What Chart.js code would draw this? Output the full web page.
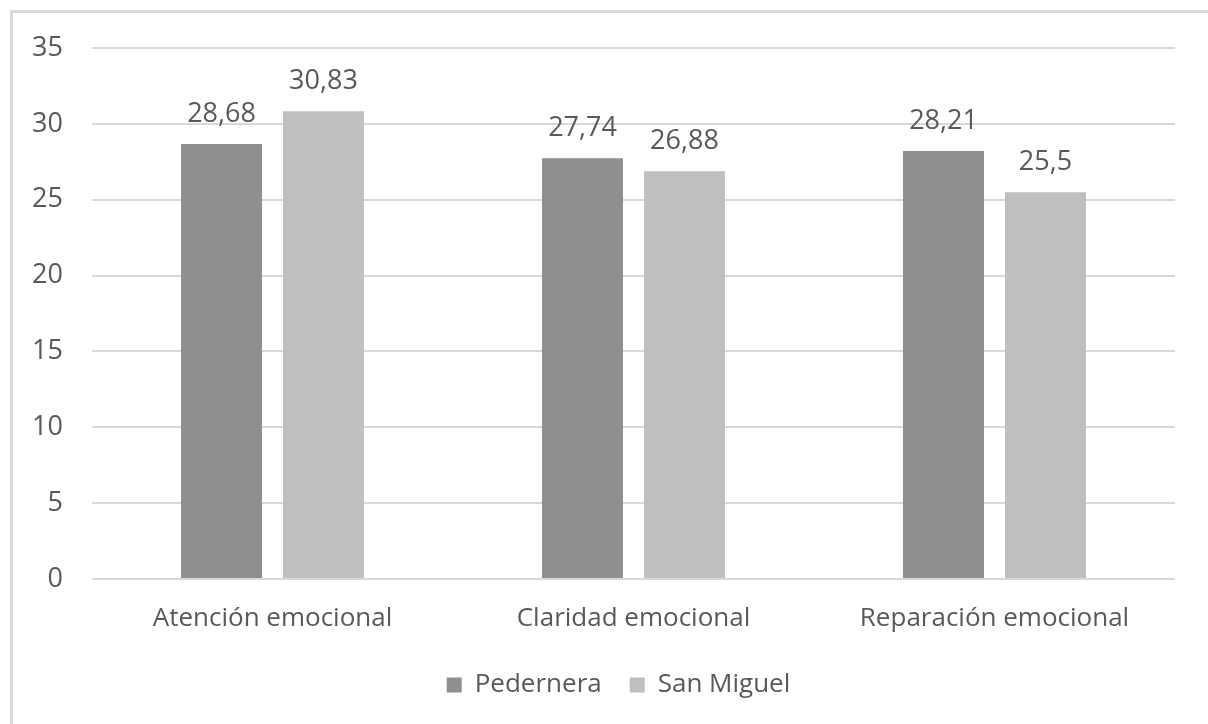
<!DOCTYPE html>
<html>
<head>
<meta charset="utf-8">
<script src="https://cdn.jsdelivr.net/npm/chart.js@4/dist/chart.umd.min.js"></script>
<style>
  html, body { margin: 0; padding: 0; background: #ffffff; }
  #wrap { position: relative; width: 1208px; height: 724px; }
</style>
</head>
<body>
<div id="wrap"><canvas id="c" width="1208" height="724"></canvas></div>
<script>
const categories = ['Atención emocional', 'Claridad emocional', 'Reparación emocional'];
const seriesNames = ['Pedernera', 'San Miguel'];
const pedernera = [28.68, 27.74, 28.21];
const sanMiguel = [30.83, 26.88, 25.5];
const yTicks = [0, 5, 10, 15, 20, 25, 30, 35];

const TEXT = '#595959';
const FONT = '"Open Sans", "Noto Sans", sans-serif';

const frame = {
  id: 'frame',
  beforeDraw(chart) {
    const ctx = chart.ctx;
    ctx.save();
    ctx.fillStyle = '#d9d9d9';
    ctx.fillRect(10, 10, 3, chart.height - 10);
    ctx.fillRect(10, 10, chart.width - 10, 3);
    ctx.restore();
  }
};

const valueLabels = {
  id: 'valueLabels',
  afterDatasetsDraw(chart) {
    const ctx = chart.ctx;
    ctx.save();
    ctx.fillStyle = TEXT;
    ctx.font = '27px ' + FONT;
    ctx.textAlign = 'center';
    ctx.textBaseline = 'alphabetic';
    chart.data.datasets.forEach((ds, i) => {
      chart.getDatasetMeta(i).data.forEach((bar, j) => {
        ctx.fillText(String(ds.data[j]).replace('.', ','), bar.x, bar.y - 22);
      });
    });
    ctx.restore();
  }
};

const legendShift = {
  id: 'legendShift',
  afterLayout(chart) {
    if (chart.legend) { chart.legend.left += 31; chart.legend.right += 31; }
  }
};

new Chart(document.getElementById('c'), {
  type: 'bar',
  data: {
    labels: categories,
    datasets: [
      { label: seriesNames[0], data: pedernera, backgroundColor: '#8f8f8f', categoryPercentage: 0.565, barPercentage: 0.794 },
      { label: seriesNames[1], data: sanMiguel, backgroundColor: '#bfbfbf', categoryPercentage: 0.565, barPercentage: 0.794 }
    ]
  },
  options: {
    responsive: false,
    animation: false,
    events: [],
    layout: { padding: { left: 0, right: 33, top: 48, bottom: 16 } },
    scales: {
      x: {
        grid: { display: false, drawTicks: false },
        border: { display: false },
        ticks: { color: TEXT, font: { family: FONT, size: 26 }, padding: 24, maxRotation: 0 },
        afterFit(s) { s.height = 65; }
      },
      y: {
        min: 0, max: 35,
        afterBuildTicks(s) { s.ticks = yTicks.map(v => ({ value: v })); },
        grid: { color: '#d9d9d9', lineWidth: 2, drawTicks: false },
        border: { display: false },
        ticks: { color: TEXT, font: { family: FONT, size: 27 }, padding: 29 },
        afterFit(s) { s.width = 92; }
      }
    },
    plugins: {
      legend: {
        position: 'bottom',
        labels: {
          color: TEXT,
          font: { family: FONT, size: 26 },
          boxWidth: 15, boxHeight: 15, padding: 28
        }
      },
      tooltip: { enabled: false }
    }
  },
  plugins: [frame, valueLabels, legendShift]
});
</script>
</body>
</html>
